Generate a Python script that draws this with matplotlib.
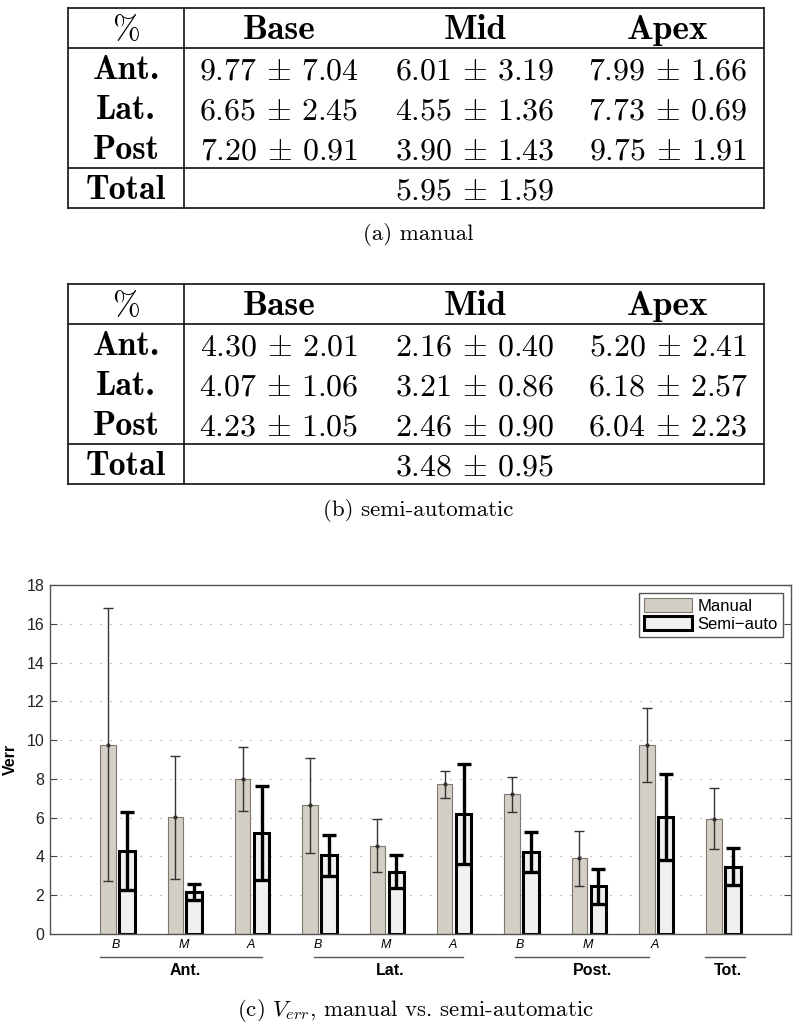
import numpy as np
import matplotlib
matplotlib.use("Agg")
import matplotlib.pyplot as plt
from matplotlib.patches import Patch

plt.rcParams['mathtext.fontset'] = 'cm'

# data
regions = ['Ant.', 'Lat.', 'Post']
levels = ['Base', 'Mid', 'Apex']
manual_mean = [9.77, 6.01, 7.99, 6.65, 4.55, 7.73, 7.20, 3.90, 9.75, 5.95]
manual_sd = [7.04, 3.19, 1.66, 2.45, 1.36, 0.69, 0.91, 1.43, 1.91, 1.59]
semi_mean = [4.30, 2.16, 5.20, 4.07, 3.21, 6.18, 4.23, 2.46, 6.04, 3.48]
semi_sd = [2.01, 0.40, 2.41, 1.06, 0.86, 2.57, 1.05, 0.90, 2.23, 0.95]
sub_labels = ['B', 'M', 'A', 'B', 'M', 'A', 'B', 'M', 'A', '']
group_names = ['Ant.', 'Lat.', 'Post.', 'Tot.']
group_spans = [(0.74, 3.15), (3.92, 6.13), (6.91, 8.89), (9.72, 10.31)]
group_centers = [2.0, 5.05, 8.05, 10.07]

fig = plt.figure(figsize=(8, 10.35), dpi=100)

# overlay in pixel coordinates for the two tables
ov = fig.add_axes([0, 0, 1, 1])
ov.set_xlim(0, 800)
ov.set_ylim(1035, 0)
ov.axis('off')

col_x = [126, 279, 475, 668]
lc = '#222222'


def pm(m, s):
    return r'$%.2f\,\pm\,%.2f$' % (m, s)


def draw_table(top, means, sds, caption):
    left, right, sep = 68, 764, 184
    rh = 40
    lines_y = [top, top + rh, top + 4 * rh, top + 5 * rh]
    for y in lines_y:
        ov.plot([left, right], [y, y], color=lc, lw=1.3)
    ov.plot([left, left], [top, top + 5 * rh], color=lc, lw=1.3)
    ov.plot([right, right], [top, top + 5 * rh], color=lc, lw=1.3)
    ov.plot([sep, sep], [top, top + 5 * rh], color=lc, lw=1.3)
    base = 11
    ov.text(col_x[0], top + rh / 2 + base, '%', family='cmr10', fontsize=24,
            ha='center', va='baseline')
    for j, lv in enumerate(levels):
        ov.text(col_x[j + 1], top + rh / 2 + base, lv, family='cmb10',
                fontsize=25.5, ha='center', va='baseline')
    for i, rg in enumerate(regions):
        y = top + rh * (i + 1) + rh / 2 + base
        ov.text(col_x[0], y, rg, family='cmb10', fontsize=24.5,
                ha='center', va='baseline')
        for j in range(3):
            k = i * 3 + j
            ov.text(col_x[j + 1], y, pm(means[k], sds[k]),
                    fontsize=23, ha='center', va='baseline')
    y = top + 4 * rh + rh / 2 + base
    ov.text(col_x[0], y, 'Total', family='cmb10', fontsize=24.5,
            ha='center', va='baseline')
    ov.text(col_x[2], y, pm(means[9], sds[9]),
            fontsize=23, ha='center', va='baseline')
    ov.text(418, top + 5 * rh + 27, caption, family='cmr10', fontsize=16.5,
            ha='center', va='center')


draw_table(8, manual_mean, manual_sd, '(a) manual')
draw_table(284, semi_mean, semi_sd, '(b) semi-automatic')
ov.text(415, 1010, r'(c) $V_{err}$, manual vs. semi-automatic',
        family='cmr10', fontsize=16.5, ha='center', va='center')

# bar chart
ax = fig.add_axes([50 / 800, (1035 - 934) / 1035, 741 / 800, 349 / 1035])
x = np.arange(1, len(manual_mean) + 1)
off, w = 0.14, 0.23
ax.bar(x - off, manual_mean, w, color='#d4cfc6', edgecolor='#7d776d',
       lw=0.8, zorder=2, label='Manual')
ax.errorbar(x - off, manual_mean, yerr=manual_sd, fmt='.', color='#333333',
            ms=4, elinewidth=1, capsize=3.3, capthick=1, zorder=3)
ax.bar(x + off, semi_mean, w, color='#f0f0f0', edgecolor='black',
       lw=2.2, zorder=2, label='Semi-auto')
ax.errorbar(x + off, semi_mean, yerr=semi_sd, fmt='none', ecolor='black',
            elinewidth=2.4, capsize=4.7, capthick=2.4, zorder=3)

ax.set_xlim(0, 11)
ax.set_ylim(0, 18)
ax.set_yticks(np.arange(0, 19, 2))
ax.set_xticks([])
ax.tick_params(axis='y', direction='in', length=5, right=True, labelsize=11.5,
               color='#444444', labelcolor='#222222', pad=4)
for lab in ax.get_yticklabels():
    lab.set_family('Liberation Sans')
for sp in ax.spines.values():
    sp.set_color('#555555')
    sp.set_linewidth(1)
ax.yaxis.grid(True, color='#999999', linestyle=(0, (1, 8)), lw=0.8, zorder=0)
ax.set_ylabel('Verr', fontsize=11.5, fontweight='bold', family='Liberation Sans',
              labelpad=6)

handles = [Patch(facecolor='#d4cfc6', edgecolor='#7d776d', lw=0.8),
           Patch(facecolor='#f0f0f0', edgecolor='black', lw=2.2)]
leg = ax.legend(handles, ['Manual', 'Semi\u2212auto'], loc='upper right',
                fancybox=False, edgecolor='#555555', framealpha=1,
                prop={'family': 'Liberation Sans', 'size': 12},
                handlelength=2.9, handleheight=0.85, labelspacing=0.15,
                borderpad=0.3, handletextpad=0.3, borderaxespad=0.5)
leg.get_frame().set_linewidth(1)

trans = ax.get_xaxis_transform()
for xi, s in zip(x, sub_labels):
    ax.text(xi - 0.02, -0.032, s, transform=trans, fontsize=9, style='italic',
            family='Liberation Sans', ha='center', va='center')
for (a, b), c, name in zip(group_spans, group_centers, group_names):
    ax.plot([a, b], [-0.066, -0.066], transform=trans, color='#555555',
            lw=1, clip_on=False)
    ax.text(c, -0.106, name, transform=trans, fontsize=11.5, fontweight='bold',
            family='Liberation Sans', ha='center', va='center')

fig.savefig('out.png', dpi=100)
